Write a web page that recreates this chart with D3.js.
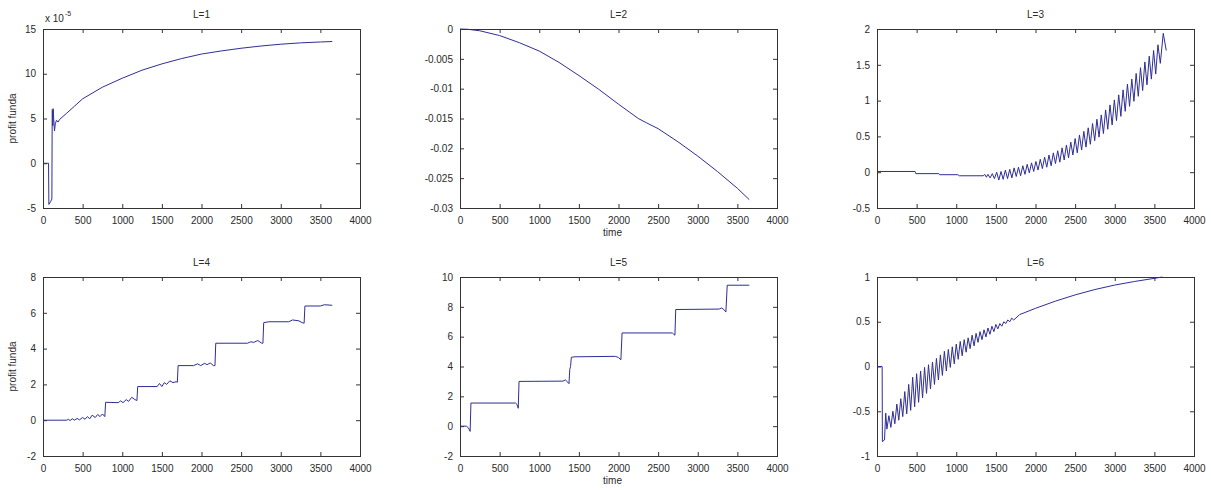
<!DOCTYPE html>
<html lang="en">
<head>
<meta charset="UTF-8">
<title>profit funda, L=1..6</title>
<script src="https://d3js.org/d3.v7.min.js"></script>
<style>
    body{
        margin: 0;
        padding: 0;
        background: white;
    }
    svg{
        font-family: "Liberation Sans", Arial, sans-serif;
    }
    .tick text{
        font-size: 10px;
        fill: #2a2a2a;
    }
    .title, .label{
        font-size: 10px;
        fill: #2a2a2a;
    }
</style>
</head>
<body>
<svg id="canvas" width="1211" height="490"></svg>
<script>

// values, [time, profit]
// L=1 is in units of 1e-5
const l1 = [[0,0],[70,0],[74,-4.6],[95,-4.3],[112,-4.0],[116,6.0],[121,5.9],[124,4.2],[128,6.1],[135,5.0],[145,3.6],[155,4.4],[170,4.8],[190,4.6],[210,4.9],[300,5.6],[400,6.4],[500,7.2],[750,8.5],[1000,9.5],[1250,10.4],[1500,11.1],[1750,11.7],[2000,12.2],[2250,12.55],[2500,12.85],[2750,13.1],[3000,13.3],[3250,13.45],[3500,13.55],[3650,13.6]]

const l2 = [[0,0],[100,-0.00005],[250,-0.0003],[500,-0.0011],[750,-0.0023],[1000,-0.0037],[1250,-0.0056],[1500,-0.0078],[1750,-0.0101],[2000,-0.0126],[2250,-0.0150],[2350,-0.0157],[2500,-0.0167],[2750,-0.0189],[3000,-0.0213],[3250,-0.0239],[3500,-0.0267],[3650,-0.0286]]

const l3 = [[0,0.01],[480,0.01],[490,-0.02],[780,-0.02],[790,-0.035],[1020,-0.035],[1040,-0.05],[1340,-0.05],[1360,-0.03],[1380,-0.07],
    [1400,-0.03],[1427,-0.08],[1455,-0.02],[1482,-0.09],[1510,0.0],[1537,-0.11],[1565,0.01],[1592,-0.10],[1620,0.03],[1647,-0.09],
    [1675,0.04],[1702,-0.08],[1730,0.06],[1757,-0.06],[1785,0.07],[1812,-0.05],[1840,0.09],[1867,-0.03],[1895,0.11],[1922,-0.01],
    [1950,0.13],[1977,0.01],[2005,0.15],[2032,0.03],[2060,0.18],[2087,0.05],[2115,0.21],[2142,0.07],[2170,0.24],[2197,0.09],
    [2225,0.27],[2252,0.12],[2280,0.30],[2307,0.14],[2335,0.34],[2362,0.17],[2390,0.38],[2417,0.20],[2445,0.42],[2472,0.24],
    [2500,0.47],[2527,0.27],[2555,0.52],[2582,0.31],[2610,0.57],[2637,0.35],[2665,0.62],[2692,0.39],[2720,0.68],[2747,0.44],
    [2775,0.74],[2802,0.49],[2830,0.80],[2857,0.54],[2885,0.87],[2912,0.60],[2940,0.94],[2967,0.66],[2995,1.01],[3022,0.72],
    [3050,1.08],[3077,0.78],[3105,1.15],[3132,0.85],[3160,1.23],[3187,0.92],[3215,1.30],[3242,0.99],[3270,1.38],[3297,1.06],
    [3325,1.46],[3352,1.14],[3380,1.54],[3407,1.22],[3435,1.62],[3462,1.30],[3490,1.70],[3517,1.37],[3545,1.78],[3575,1.52],
    [3612,1.94],[3650,1.70]]

const l4 = [[0,0],[300,0],[320,0.05],[340,-0.02],[370,0.08],[400,0.0],[430,0.1],[460,0.02],[500,0.15],[530,0.05],[560,0.2],[590,0.08],[620,0.28],[660,0.15],[690,0.32],[720,0.2],[750,0.35],[780,0.2],
    [790,1.0],[950,0.98],[980,1.08],[1010,0.98],[1050,1.15],[1080,1.05],[1120,1.28],[1160,1.15],[1185,1.1],
    [1195,1.88],[1440,1.88],[1470,2.05],[1500,1.88],[1530,2.1],[1560,2.0],[1600,2.2],[1640,2.1],[1680,2.15],[1695,2.12],
    [1705,3.05],[1900,3.05],[1950,3.15],[1990,3.05],[2040,3.18],[2070,3.1],[2110,3.2],[2150,3.05],[2170,3.05],
    [2180,4.3],[2580,4.3],[2620,4.38],[2660,4.35],[2710,4.45],[2760,4.3],[2775,4.3],
    [2785,5.45],[2850,5.5],[3100,5.5],[3150,5.6],[3230,5.55],[3270,5.45],[3295,5.42],
    [3305,6.38],[3500,6.38],[3550,6.45],[3650,6.42]]

const l5 = [[0,0],[80,0],[105,-0.1],[128,-0.35],[138,1.55],[700,1.55],[720,1.45],[735,1.2],[745,3.0],[1300,3.02],[1330,3.1],[1360,2.95],[1375,2.85],[1385,3.8],[1395,4.0],[1405,4.62],[1450,4.65],[1960,4.68],[2000,4.6],[2030,4.45],[2045,6.25],[2680,6.25],[2700,6.15],[2712,6.1],[2722,7.82],[3270,7.85],[3300,7.92],[3330,7.82],[3355,7.65],[3372,9.45],[3650,9.45]]

const l6 = [[0,0],[65,0],[68,-0.84],[95,-0.82],[110,-0.52],[125,-0.70],
    [150,-0.55],[175,-0.68],[200,-0.50],[225,-0.64],[250,-0.42],[275,-0.60],[300,-0.36],[325,-0.56],[350,-0.28],[375,-0.53],
    [400,-0.20],[425,-0.49],[450,-0.12],[475,-0.45],[500,-0.08],[525,-0.40],[550,-0.05],[575,-0.35],[600,-0.01],[625,-0.30],
    [650,0.02],[675,-0.25],[700,0.05],[725,-0.20],[750,0.09],[775,-0.15],[800,0.13],[825,-0.10],[850,0.17],[875,-0.05],
    [900,0.19],[925,-0.01],[950,0.22],[975,0.03],[1000,0.25],[1025,0.08],[1050,0.28],[1075,0.12],[1100,0.30],[1125,0.16],
    [1150,0.32],[1175,0.20],[1200,0.35],[1225,0.23],[1250,0.37],[1275,0.27],[1300,0.39],[1325,0.30],[1350,0.41],[1375,0.33],
    [1400,0.43],[1425,0.36],[1450,0.45],[1475,0.39],[1500,0.47],[1525,0.42],[1550,0.48],[1575,0.45],[1600,0.50],[1625,0.48],
    [1650,0.52],[1675,0.50],[1700,0.54],[1725,0.52],
    [1800,0.58],[2000,0.65],[2250,0.73],[2500,0.80],[2750,0.86],[3000,0.91],[3250,0.95],[3500,0.985],[3600,1.0]]

// tick labels
const timeTicks = [0,500,1000,1500,2000,2500,3000,3500,4000]
const l1Ticks = [-5,0,5,10,15]
const l2Ticks = [-0.03,-0.025,-0.02,-0.015,-0.01,-0.005,0]
const l3Ticks = [-0.5,0,0.5,1,1.5,2]
const l4Ticks = [-2,0,2,4,6,8]
const l5Ticks = [-2,0,2,4,6,8,10]
const l6Ticks = [-1,-0.5,0,0.5,1]

const titles = ["L=1","L=2","L=3","L=4","L=5","L=6"]

// panel layout (MATLAB subplot 2x3)
const colLeft = [43, 460, 877]
const rowTop = [29, 277]
const plotW = 317
const plotH = 179

const panels = [
    {data: l1, ticks: l1Ticks, ylabel: true,  xlabel: false},
    {data: l2, ticks: l2Ticks, ylabel: false, xlabel: true},
    {data: l3, ticks: l3Ticks, ylabel: false, xlabel: false},
    {data: l4, ticks: l4Ticks, ylabel: true,  xlabel: false},
    {data: l5, ticks: l5Ticks, ylabel: false, xlabel: true},
    {data: l6, ticks: l6Ticks, ylabel: false, xlabel: false}
]

const canvas = d3.select("#canvas")

let drawPanel = (p, i) => {
    let left = colLeft[i % 3]
    let top = rowTop[Math.floor(i / 3)]

    let x = d3.scaleLinear().domain([0, 4000]).range([0, plotW])
    let y = d3.scaleLinear().domain(d3.extent(p.ticks)).range([plotH, 0])

    let g = canvas.append("g").attr("transform", "translate(" + left + "," + top + ")")

    // ticks point inwards on all four sides, labels only bottom/left
    let fmt = (d) => String(d)
    g.append("g").attr("transform", "translate(0," + plotH + ")")
        .call(d3.axisBottom(x).tickValues(timeTicks).tickFormat(fmt).tickSizeInner(-4).tickSizeOuter(0).tickPadding(9))
    g.append("g")
        .call(d3.axisTop(x).tickValues(timeTicks).tickFormat("").tickSizeInner(-4).tickSizeOuter(0))
    g.append("g")
        .call(d3.axisLeft(y).tickValues(p.ticks).tickFormat(fmt).tickSizeInner(-4).tickSizeOuter(0).tickPadding(7))
    g.append("g").attr("transform", "translate(" + plotW + ",0)")
        .call(d3.axisRight(y).tickValues(p.ticks).tickFormat("").tickSizeInner(-4).tickSizeOuter(0))

    g.selectAll(".domain").remove()
    g.selectAll(".tick line").attr("stroke", "#333")

    // the curve
    let line = d3.line().x(d => x(d[0])).y(d => y(d[1]))
    g.append("path")
        .datum(p.data)
        .attr("d", line)
        .attr("fill", "none")
        .attr("stroke", "#2e2e96")
        .attr("stroke-width", 1)
        .attr("stroke-linejoin", "round")

    // box
    g.append("rect")
        .attr("x", 0.5).attr("y", 0.5)
        .attr("width", plotW).attr("height", plotH)
        .attr("fill", "none")
        .attr("stroke", "#333")

    g.append("text")
        .attr("class", "title")
        .attr("x", plotW / 2).attr("y", -11)
        .attr("text-anchor", "middle")
        .text(titles[i])

    if (p.ylabel) {
        g.append("text")
            .attr("class", "label")
            .attr("transform", "translate(" + (-27) + "," + (plotH / 2) + ") rotate(-90)")
            .attr("text-anchor", "middle")
            .text("profit funda")
    }
    if (p.xlabel) {
        g.append("text")
            .attr("class", "label")
            .attr("x", plotW / 2 - 6).attr("y", plotH + 28)
            .attr("text-anchor", "middle")
            .text("time")
    }
    // exponent note for L=1
    if (i === 0) {
        let t = g.append("text").attr("class", "label").attr("x", 2).attr("y", -7)
        t.append("tspan").text("x 10")
        t.append("tspan").attr("dy", -6).attr("dx", 1).style("font-size", "7px").text("-5")
    }
}

panels.forEach(drawPanel)

</script>
</body>
</html>
